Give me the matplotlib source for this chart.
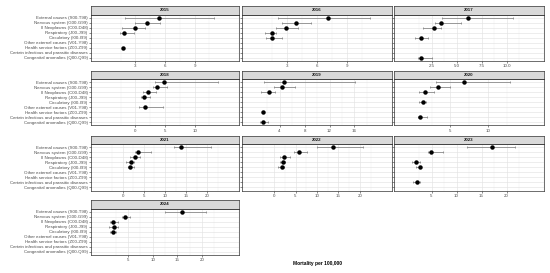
import numpy as np
import matplotlib
matplotlib.use("Agg")
import matplotlib.pyplot as plt

plt.rcParams['font.family'] = ['Liberation Sans', 'DejaVu Sans']

nan = np.nan

categories = ["External causes (S00-T98)",
              "Nervous system (G00-G99)",
              "II Neoplasms (C00-D48)",
              "Respiratory (J00-J99)",
              "Circulatory (I00-I99)",
              "Other external causes (V01-Y98)",
              "Health service factors (Z00-Z99)",
              "Certain infectious and parasitic diseases",
              "Congenital anomalies (Q00-Q99)"]

years = [2015, 2016, 2017, 2018, 2019, 2020, 2021, 2022, 2023, 2024]

# point estimates and interval bounds per year (same order as categories)
est_2015 = [5.36, 4.19, 2.95, 1.86, nan, nan, 1.79, nan, nan]
lo_2015 = [1.9, 3.0, 1.6, 1.4, nan, nan, 1.79, nan, nan]
hi_2015 = [11.0, 5.45, 4.0, 2.88, nan, nan, 1.79, nan, nan]

est_2016 = [7.1, 3.9, 2.92, 1.5, 1.48, nan, nan, nan, nan]
lo_2016 = [2.1, 2.54, 1.85, 0.8, 0.87, nan, nan, nan, nan]
hi_2016 = [11.3, 5.35, 4.1, 1.9, 2.48, nan, nan, nan, nan]

est_2017 = [6.14, 3.46, 2.74, nan, 1.43, nan, nan, nan, 1.48]
lo_2017 = [3.5, 2.86, 1.67, nan, 0.89, nan, nan, nan, 1.14]
hi_2017 = [10.67, 5.48, 3.46, nan, 2.1, nan, nan, nan, 2.5]

est_2018 = [4.89, 3.65, 2.08, 1.37, nan, 1.6, nan, nan, nan]
lo_2018 = [3.26, 2.9, 1.3, 0.94, nan, 0.55, nan, nan, nan]
hi_2018 = [13.9, 5.34, 3.55, 2.44, nan, 4.72, nan, nan, nan]

est_2019 = [4.67, 4.34, 2.32, nan, nan, nan, 1.28, nan, 1.35]
lo_2019 = [1.57, 3.1, 1.05, nan, nan, nan, 1.28, nan, 0.87]
hi_2019 = [16.05, 6.46, 3.22, nan, nan, nan, 1.28, nan, 2.17]

est_2020 = [6.85, 3.3, 1.67, nan, 1.43, nan, nan, 0.9, nan]
lo_2020 = [3.15, 2.35, 0.83, nan, 0.86, nan, nan, 0.65, nan]
hi_2020 = [12.9, 5.0, 2.8, nan, 1.82, nan, nan, 1.85, nan]

est_2021 = [13.68, 3.63, 2.84, 1.86, 1.62, nan, nan, nan, nan]
lo_2021 = [12.2, 2.99, 1.76, 0.88, 1.18, nan, nan, nan, nan]
hi_2021 = [20.8, 6.76, 4.07, 2.65, 2.65, nan, nan, nan, nan]

est_2022 = [13.82, 5.88, 2.2, 2.0, 1.72, nan, nan, nan, nan]
lo_2022 = [10.05, 4.66, 1.42, 1.37, 0.83, nan, nan, nan, nan]
hi_2022 = [20.8, 7.7, 3.63, 2.55, 2.3, nan, nan, nan, nan]

est_2023 = [17.0, 4.92, nan, 1.9, 2.6, nan, nan, 2.0, nan]
lo_2023 = [12.04, 4.26, nan, 1.15, 1.9, nan, nan, 1.3, nan]
hi_2023 = [21.73, 7.38, nan, 2.6, 2.9, nan, nan, 2.66, nan]

est_2024 = [16.0, 4.32, 2.0, 2.14, 2.0, nan, nan, nan, nan]
lo_2024 = [12.4, 3.69, 1.4, 1.12, 1.4, nan, nan, nan, nan]
hi_2024 = [20.9, 5.34, 3.06, 3.06, 2.48, nan, nan, nan, nan]

ticks_by_year = [[3, 6, 9], [3, 6, 9], [2.5, 5.0, 7.5, 10.0], [0, 5, 10],
                 [4, 8, 12, 16], [5, 10], [0, 5, 10, 15, 20],
                 [0, 5, 10, 15, 20], [5, 10, 15, 20], [5, 10, 15, 20]]

ests = [est_2015, est_2016, est_2017, est_2018, est_2019,
        est_2020, est_2021, est_2022, est_2023, est_2024]
los = [lo_2015, lo_2016, lo_2017, lo_2018, lo_2019,
       lo_2020, lo_2021, lo_2022, lo_2023, lo_2024]
his = [hi_2015, hi_2016, hi_2017, hi_2018, hi_2019,
       hi_2020, hi_2021, hi_2022, hi_2023, hi_2024]

W, H = 550, 273
fig = plt.figure(figsize=(W / 100, H / 100), dpi=100)

cols = [(91, 239), (242, 392), (394, 544)]
row_tops = [6, 70.5, 135.5, 200]
strip_h = 8.5
panel_h = 46.5
fs = 3.15

for i, year in enumerate(years):
    r, c = divmod(i, 3)
    x0, x1 = cols[c]
    sb = row_tops[r] + strip_h
    pb = sb + panel_h
    ax = fig.add_axes([x0 / W, 1 - pb / H, (x1 - x0) / W, panel_h / H])
    sax = fig.add_axes([x0 / W, 1 - sb / H, (x1 - x0) / W, strip_h / H])

    # strip
    sax.set_facecolor('#D9D9D9')
    sax.set_xticks([])
    sax.set_yticks([])
    for s in sax.spines.values():
        s.set_color('#333333')
        s.set_linewidth(0.5)
    sax.text(0.5, 0.5, str(year), ha='center', va='center',
             fontsize=fs, fontweight='bold', color='#1A1A1A',
             transform=sax.transAxes)

    est = np.array(ests[i])
    lo = np.array(los[i])
    hi = np.array(his[i])
    yy = np.arange(len(categories))
    ok = ~np.isnan(est)

    ax.errorbar(est[ok], yy[ok], xerr=[est[ok] - lo[ok], hi[ok] - est[ok]],
                fmt='none', ecolor='#777777', elinewidth=0.5,
                capsize=0.8, capthick=0.5, zorder=2)
    ax.plot(est[ok], yy[ok], 'o', color='black', ms=2.2, zorder=3)

    # free x scale with 5% expansion
    lo_min = np.nanmin(lo)
    hi_max = np.nanmax(hi)
    pad = 0.05 * (hi_max - lo_min)
    ax.set_xlim(lo_min - pad, hi_max + pad)
    ax.set_ylim(len(categories) - 1 + 0.6, -0.6)

    ticks = ticks_by_year[i]
    step = ticks[1] - ticks[0]
    ax.set_xticks(ticks)
    if year == 2017:
        ax.set_xticklabels([f"{t:.1f}" for t in ticks])
    else:
        ax.set_xticklabels([f"{t:g}" for t in ticks])
    ax.set_xticks(np.arange(ticks[0] - step * 1.5, ticks[-1] + step * 1.6, step),
                  minor=True)
    ax.set_yticks(yy)
    if c == 0:
        ax.set_yticklabels(categories)
    else:
        ax.set_yticklabels([])
        ax.tick_params(axis='y', length=0)

    ax.grid(which='major', color='#E3E3E3', linewidth=0.45)
    ax.grid(which='minor', axis='x', color='#EFEFEF', linewidth=0.3)
    ax.set_axisbelow(True)
    ax.tick_params(which='major', labelsize=fs, colors='#333333',
                   labelcolor='#4D4D4D', length=1.3, width=0.4, pad=1.2)
    ax.tick_params(which='minor', length=0)
    for s in ax.spines.values():
        s.set_color('#333333')
        s.set_linewidth(0.5)

fig.text(317.5 / W, 1 - 264 / H, "Mortality per 100,000", ha='center',
         va='center', fontsize=3.5, fontweight='bold', color='black')

fig.savefig("out.png", dpi=100)
